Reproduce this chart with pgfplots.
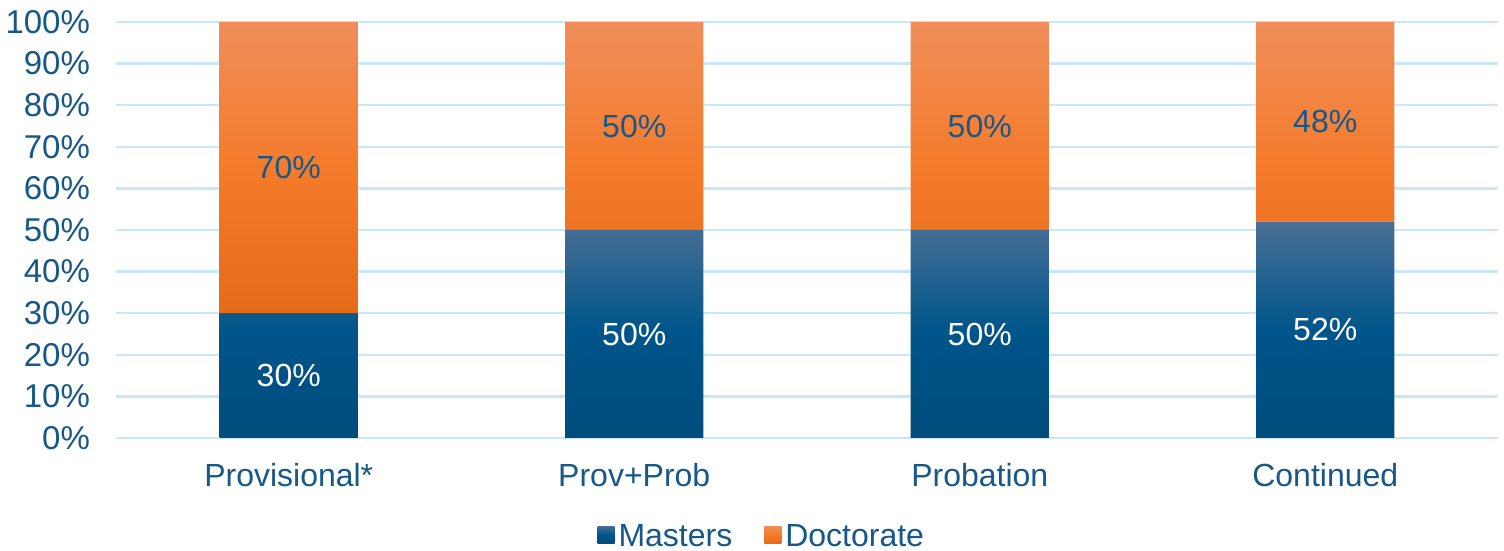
\documentclass[border=0pt]{standalone}
\usepackage{fontspec}
\setmainfont{Liberation Sans}
\usepackage{pgfplots}
\pgfplotsset{compat=1.18}
\definecolor{txt}{HTML}{175888}
\definecolor{gridblue}{HTML}{C8E8FA}
\definecolor{mTop}{HTML}{4A6F96}
\definecolor{mMid}{HTML}{00558A}
\definecolor{mBot}{HTML}{004C7D}
\definecolor{dTop}{HTML}{F08E5A}
\definecolor{dMid}{HTML}{F47B2B}
\definecolor{dBot}{HTML}{E56B19}
\begin{document}
\begin{tikzpicture}
\useasboundingbox (0,0) rectangle (752pt,275.5pt);
\begin{axis}[
    at={(58pt,56.5pt)}, anchor=south west,
    scale only axis, width=691pt, height=208pt,
    ybar stacked, bar width=0.4,
    xmin=-0.5, xmax=3.5, ymin=0, ymax=100,
    xtick=data,
    xticklabels={Provisional*, Prov+Prob, Probation, Continued},
    ytick={0,10,...,100},
    yticklabel={\pgfmathprintnumber{\tick}\%},
    axis line style={draw=none},
    major tick length=0pt,
    ymajorgrids,
    grid style={gridblue, line width=1.2pt},
    tick label style={text=txt, font=\fontsize{16pt}{19pt}\selectfont},
    yticklabel style={xshift=-9.5pt, font=\fontsize{16.5pt}{19pt}\selectfont},
    /pgf/number format/assume math mode=true,
    xticklabel style={yshift=-9pt},
    legend style={at={(axis description cs:0.468,-0.238)}, anchor=center,
        draw=none, legend columns=2, text=txt,
        font=\fontsize{16pt}{19pt}\selectfont,
        /tikz/every even column/.append style={column sep=14pt}},
    legend image code/.code={\path[#1,draw=none] (0pt,-3pt) rectangle (8.5pt,5.5pt);},
    nodes near coords={\pgfmathprintnumber{\pgfplotspointmeta}\%},
    every node near coord/.append style={anchor=center,
        font=\fontsize{16pt}{19pt}\selectfont},
]
\addplot[draw=none, top color=mTop, bottom color=mBot, middle color=mMid,
    every node near coord/.append style={text=white}]
    coordinates {(0,30) (1,50) (2,50) (3,52)};
\addplot[draw=none, top color=dTop, bottom color=dBot, middle color=dMid,
    every node near coord/.append style={text=txt}]
    coordinates {(0,70) (1,50) (2,50) (3,48)};
\legend{Masters, Doctorate}
\end{axis}
\end{tikzpicture}
\end{document}
